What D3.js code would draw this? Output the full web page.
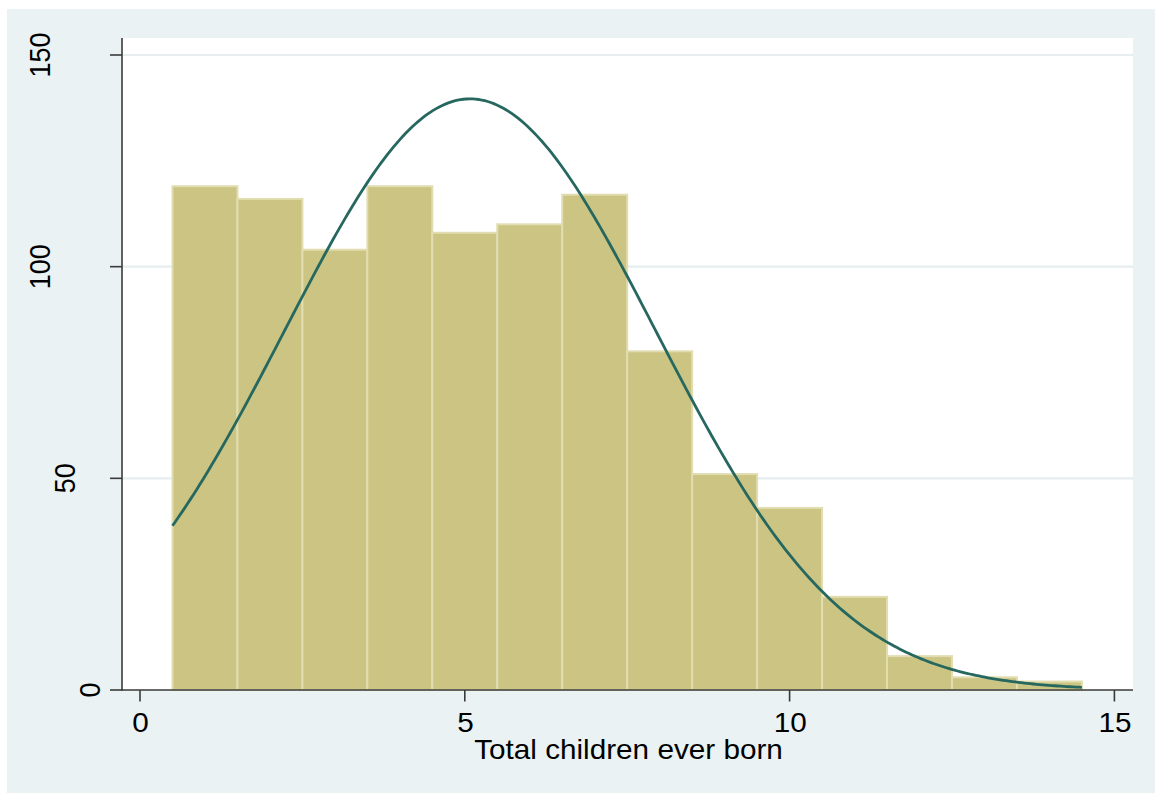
<!DOCTYPE html>
<html>
<head>
<meta charset="utf-8">
<script src="https://cdn.jsdelivr.net/npm/d3@7"></script>
<style>
  html, body { margin: 0; padding: 0; background: #ffffff; }
  svg { display: block; }
  text { font-family: "Liberation Sans", Arial, sans-serif; fill: #000; }
</style>
</head>
<body>
<svg id="chart" width="1155" height="793"></svg>
<script>
// ---- data ----
const bins = [1, 2, 3, 4, 5, 6, 7, 8, 9, 10, 11, 12, 13, 14];
const counts = [119, 116, 104, 119, 108, 110, 117, 80, 51, 43, 22, 8, 3, 2];
const xTicks = [0, 5, 10, 15];
const yTicks = [0, 50, 100, 150];
const xTitle = "Total children ever born";
const binWidth = 1;

// ---- layout ----
const W = 1155, H = 793;
const outer = { x: 7, y: 9, w: W - 7, h: H - 9 };
const plot = { left: 122, right: 1133, top: 38, bottom: 690 };
const fontSize = 27, stretch = 1.1;

const svg = d3.select("#chart");

svg.append("rect").attr("x", outer.x).attr("y", outer.y)
  .attr("width", outer.w).attr("height", outer.h).attr("fill", "#eaf2f3");
svg.append("rect").attr("x", plot.left).attr("y", plot.top)
  .attr("width", plot.right - plot.left).attr("height", plot.bottom - plot.top)
  .attr("fill", "#ffffff");

const x = d3.scaleLinear().domain([0, 15]).range([140, 1114.4]);
const y = d3.scaleLinear().domain([0, 150]).range([690, 55]);

// gridlines
svg.append("g").selectAll("line").data(yTicks.filter(d => d > 0)).join("line")
  .attr("x1", plot.left).attr("x2", plot.right)
  .attr("y1", d => y(d)).attr("y2", d => y(d))
  .attr("stroke", "#e6eef0").attr("stroke-width", 2.2);

// bars
svg.append("g").selectAll("rect").data(bins.map((b, i) => ({ b, c: counts[i] }))).join("rect")
  .attr("x", d => x(d.b - binWidth / 2))
  .attr("width", d => x(d.b + binWidth / 2) - x(d.b - binWidth / 2))
  .attr("y", d => y(d.c))
  .attr("height", d => y(0) - y(d.c))
  .attr("fill", "#cbc483")
  .attr("stroke", "#e1ddb0")
  .attr("stroke-width", 2);

// normal curve computed from the histogram
const N = d3.sum(counts);
const mean = d3.sum(bins.map((b, i) => b * counts[i])) / N;
const variance = d3.sum(bins.map((b, i) => (b - mean) ** 2 * counts[i])) / (N - 1);
const sd = Math.sqrt(variance);
const x0 = bins[0] - binWidth / 2, x1 = bins[bins.length - 1] + binWidth / 2;
const curvePts = d3.range(0, 301).map(k => {
  const xv = x0 + (x1 - x0) * k / 300;
  const dens = Math.exp(-((xv - mean) ** 2) / (2 * variance)) / (sd * Math.sqrt(2 * Math.PI));
  return [xv, dens * N * binWidth];
});
svg.append("path").datum(curvePts)
  .attr("d", d3.line().x(d => x(d[0])).y(d => y(d[1])))
  .attr("fill", "none").attr("stroke", "#26685f").attr("stroke-width", 2.8);

// axes lines
const axisColor = "#3a3a3a";
svg.append("line").attr("x1", plot.left).attr("x2", plot.left)
  .attr("y1", plot.top).attr("y2", plot.bottom + 0.75)
  .attr("stroke", axisColor).attr("stroke-width", 1.6);
svg.append("line").attr("x1", plot.left).attr("x2", plot.right)
  .attr("y1", plot.bottom).attr("y2", plot.bottom)
  .attr("stroke", axisColor).attr("stroke-width", 1.6);

// y ticks
svg.append("g").selectAll("line").data(yTicks).join("line")
  .attr("x1", 110).attr("x2", plot.left)
  .attr("y1", d => y(d)).attr("y2", d => y(d))
  .attr("stroke", axisColor).attr("stroke-width", 1.6);
svg.append("g").selectAll("text").data(yTicks).join("text")
  .attr("transform", d => {
    const len = String(d).length;
    const cx = 89.5 - (len - 1) * 25;
    return `translate(${cx},${y(d)}) scale(${stretch},1) rotate(-90)`;
  })
  .attr("text-anchor", "middle").attr("dy", "0.36em")
  .attr("font-size", fontSize)
  .text(d => d);

// x ticks
svg.append("g").selectAll("line").data(xTicks).join("line")
  .attr("x1", d => x(d)).attr("x2", d => x(d))
  .attr("y1", plot.bottom).attr("y2", 701.5)
  .attr("stroke", axisColor).attr("stroke-width", 1.6);
svg.append("g").selectAll("text").data(xTicks).join("text")
  .attr("transform", d => `translate(${x(d) + 0.6},732) scale(${stretch},1)`)
  .attr("text-anchor", "middle")
  .attr("font-size", fontSize)
  .text(d => d);

// x title
svg.append("text")
  .attr("transform", `translate(${(plot.left + plot.right) / 2 + 1},759) scale(${stretch},1)`)
  .attr("text-anchor", "middle")
  .attr("font-size", fontSize)
  .text(xTitle);
</script>
</body>
</html>
